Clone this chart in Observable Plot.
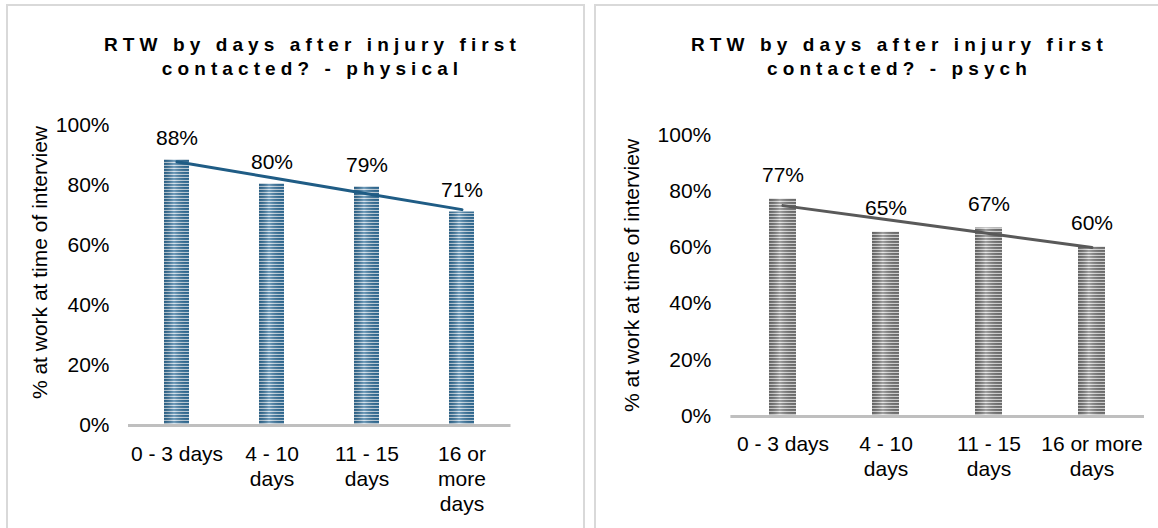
<!DOCTYPE html>
<html><head><meta charset="utf-8">
<script src="https://cdn.jsdelivr.net/npm/d3@7"></script>
<script src="https://cdn.jsdelivr.net/npm/@observablehq/plot@0.6"></script>
<style>
body{margin:0;background:#fff;width:1158px;height:528px;overflow:hidden;position:relative;font-family:"Liberation Sans",Arial,sans-serif;}
.panel{position:absolute;top:4px;border:2px solid #d9d9d9;height:600px;box-sizing:border-box;}
.title{position:absolute;font-weight:bold;font-size:19px;letter-spacing:5.1px;line-height:24.3px;text-align:center;color:#000;white-space:nowrap;width:600px;}
.chart{position:absolute;top:100px;}
</style></head><body>
<div class="panel" style="left:6px;width:579px"></div>
<div class="panel" style="left:594px;width:600px"></div>
<div class="title" id="t1" style="left:12.5px;top:32.8px"></div>
<div class="title" id="t2" style="left:599.5px;top:32.8px"></div>
<div class="chart" id="c1" style="left:0"></div>
<div class="chart" id="c2" style="left:595px"></div>
<svg width="0" height="0" style="position:absolute">
  <defs>
    <pattern id="stripeBlue" patternUnits="userSpaceOnUse" width="4" height="3">
      <rect width="4" height="3" fill="#c9dbe8"/><rect width="4" height="1.9" fill="#2f6e9a"/>
    </pattern>
    <pattern id="stripeGray" patternUnits="userSpaceOnUse" width="4" height="3">
      <rect width="4" height="3" fill="#e0e0e0"/><rect width="4" height="1.9" fill="#737373"/>
    </pattern>
    <linearGradient id="shine" x1="0" x2="1" y1="0" y2="0">
      <stop offset="0" stop-color="#000" stop-opacity="0.15"/>
      <stop offset="0.4" stop-color="#fff" stop-opacity="0.3"/>
      <stop offset="1" stop-color="#000" stop-opacity="0.08"/>
    </linearGradient>
  </defs>
</svg>
<script>
// ---- data ----
const categories = ["0 - 3 days", "4 - 10 days", "11 - 15 days", "16 or more days"];
const physicalValues = [88.4, 80.4, 79.4, 71.0];
const psychValues = [77.2, 65.4, 66.9, 60.1];
const physicalTickLabels = ["0 - 3 days", "4 - 10\ndays", "11 - 15\ndays", "16 or\nmore\ndays"];
const psychTickLabels = ["0 - 3 days", "4 - 10\ndays", "11 - 15\ndays", "16 or more\ndays"];
const yTicks = [0, 20, 40, 60, 80, 100];
const yLabel = "% at work at time of interview";
const physicalTitle = ["RTW by days after injury first", "contacted? - physical"];
const psychTitle = ["RTW by days after injury first", "contacted? - psych"];

function trend(values) {
  const n = values.length;
  const mx = (n - 1) / 2;
  const my = d3.mean(values);
  let sxy = 0, sxx = 0;
  values.forEach((v, i) => { sxy += (i - mx) * (v - my); sxx += (i - mx) ** 2; });
  const b = sxy / sxx, a = my - b * mx;
  return categories.map((c, i) => ({cat: c, value: a + b * i}));
}

function chart({values, tickLabels, fill, lineColor, width, height, mt, mb, ml, mr, tickPad, xPad, labelDx, labelDy, labelGap}) {
  const data = categories.map((c, i) => ({cat: c, value: values[i]}));
  const labelOf = new Map(categories.map((c, i) => [c, tickLabels[i]]));
  return Plot.plot({
    width, height, marginTop: mt, marginBottom: mb, marginLeft: ml, marginRight: mr,
    style: {fontFamily: '"Liberation Sans", Arial, sans-serif', fontSize: "21px", color: "#000", background: "transparent", overflow: "visible"},
    x: {domain: categories, paddingInner: 0.737, paddingOuter: 0.3685, axis: null},
    y: {domain: [0, 100], axis: null},
    marks: [
      Plot.barY(data, {x: "cat", y: "value", fill}),
      Plot.barY(data, {x: "cat", y: "value", fill: "url(#shine)"}),
      Plot.ruleY([0], {stroke: "#bfbfbf", strokeWidth: 3, dy: 0.5}),
      Plot.line(trend(values), {x: "cat", y: "value", stroke: lineColor, strokeWidth: 3}),
      Plot.text(data, {x: "cat", y: "value", text: d => Math.round(d.value) + "%", lineAnchor: "bottom", dy: -labelGap, fontSize: 21, fill: "#000"}),
      Plot.axisY({ticks: yTicks, tickSize: 0, tickPadding: tickPad, tickFormat: d => d + "%", fontSize: 21, label: null}),
      Plot.axisX({tickSize: 0, tickPadding: xPad, tickFormat: d => labelOf.get(d), fontSize: 21, lineHeight: 1.2, label: null}),
      Plot.text([yLabel], {text: d => d, frameAnchor: "left", textAnchor: "middle", lineAnchor: "middle", rotate: -90, dx: labelDx, dy: labelDy, fontSize: 21, fill: "#000"})
    ]
  });
}

document.getElementById("t1").innerHTML = physicalTitle.join("<br>");
document.getElementById("t2").innerHTML = psychTitle.join("<br>");

document.getElementById("c1").append(chart({
  values: physicalValues, tickLabels: physicalTickLabels, fill: "url(#stripeBlue)", lineColor: "#1f5c85",
  width: 584, height: 428, mt: 24.6, mb: 103.5, ml: 128, mr: 73.5, tickPad: 19, xPad: 17.6,
  labelDx: -88, labelDy: -12.5, labelGap: 15
}));
document.getElementById("c2").append(chart({
  values: psychValues, tickLabels: psychTickLabels, fill: "url(#stripeGray)", lineColor: "#595959",
  width: 563, height: 428, mt: 34.5, mb: 112.5, ml: 135.4, mr: 14, tickPad: 19.6, xPad: 17.4,
  labelDx: -98.8, labelDy: 0, labelGap: 17
}));
</script>
</body></html>
